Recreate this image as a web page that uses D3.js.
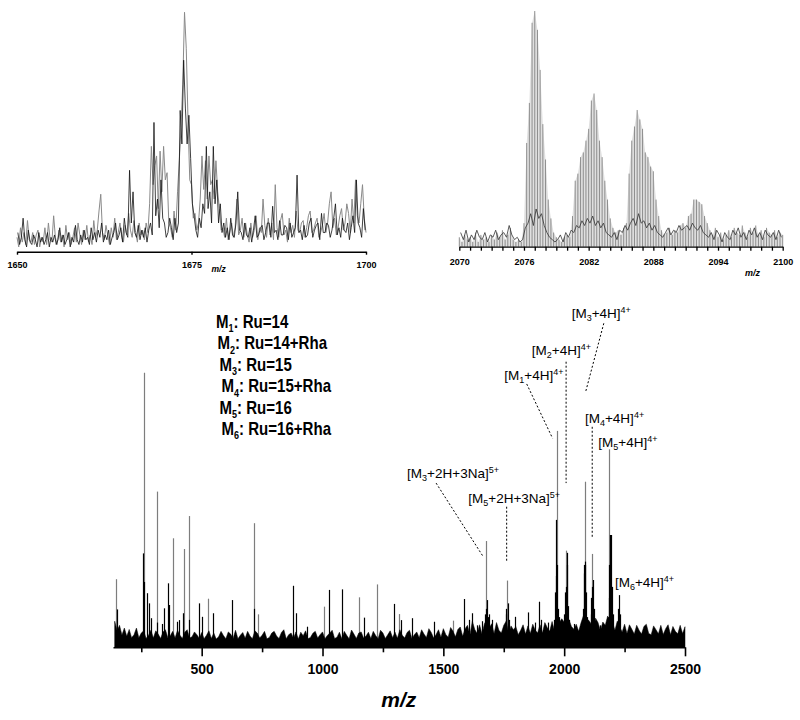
<!DOCTYPE html>
<html>
<head>
<meta charset="utf-8">
<script src="https://cdn.jsdelivr.net/npm/d3@7"></script>
<style>
  body { margin: 0; background: #fff; }
  svg { display: block; font-family: "Liberation Sans", Arial, Helvetica, sans-serif; }
</style>
</head>
<body>
<div id="chart"></div>
<script>
// ---- main spectrum: noise floor, read every 10 m/z from 140 to 2500
var noiseStart = 140, noiseStep = 10;
var noiseFloor = [
  9.5, 6, 8, 4.5, 7, 4,
  6.5, 3.5, 4.6, 7, 3.5, 5.2, 6, 3.2, 4.4, 6.2,
  3.4, 6, 4.8, 3.2, 5.6, 6.4, 3.5, 4.2, 5.8, 3.4,
  6.2, 4.4, 3.2, 5.5, 6.4, 3.4, 3.8, 5.6, 4.6, 3.3,
  5.4, 3.1, 4.4, 6, 3.2, 5.2, 3, 3.8, 5.8, 4.3,
  3.1, 5.6, 4.8, 3.2, 6.2, 3.1, 4.4, 5.4, 3.3, 5.8,
  4.1, 3.1, 6, 5.2, 3.4, 4.4, 5.8, 3.1, 3.6, 5.2,
  5.8, 4.1, 3.2, 5.4, 6.4, 3.1, 4.6, 5.2, 3.3, 5.6,
  3, 5.5, 4.2, 6, 3.1, 3.6, 5.1, 5.8, 3.4, 4.6,
  5.6, 3.1, 4.3, 5.2, 6.2, 3.2, 3.7, 5.5, 3.1, 5.8,
  4.4, 3.1, 6.3, 4.8, 3.2, 5.2, 5.6, 3.4, 4.1, 5.5,
  3.2, 5.8, 4.3, 3.1, 6.2, 5.2, 3.2, 4.6, 6, 3.5,
  5.5, 3.3, 6.4, 4.4, 3.4, 5.4, 6.2, 3.2, 4.6, 5.6,
  3.5, 6.4, 4.8, 3.6, 6.8, 5.4, 3.4, 4.7, 6.4, 3.7,
  6.8, 4.7, 3.7, 7.2, 5.9, 3.8, 6.5, 7.4, 4, 6.8,
  8, 4.5, 9.5, 6.5, 5, 8.2, 4.8, 8.6, 10, 7,
  8.6, 5, 9, 6.2, 5.2, 8, 9.5, 5, 7.8, 6.4,
  7.5, 4.6, 6.2, 8.2, 4.8, 7.8, 5, 8.4, 6.3, 5.2,
  8.2, 5.2, 9, 7.2, 5.8, 9.4, 6, 10, 9, 10.4,
  9.2, 6.2, 10, 7.6, 6.6, 8.4, 5.8, 9, 11.6, 8,
  10, 8.8, 6.4, 10.6, 9, 6, 9.2, 8, 11.4, 7.6,
  9, 6.2, 9.6, 7.4, 5.6, 8.4, 5, 8.2, 6.6, 4.8,
  8, 6.2, 4.8, 7.6, 8.4, 5, 4.6, 7.8, 6.4, 4.9,
  8, 4.7, 6.8, 8.2, 4.6, 7.6, 5.8, 4.9, 8, 5,
  7.5
];

// grey (tall) peaks of the main spectrum
var greyPeakMz  = [144, 261, 314, 381, 427, 446, 527, 715, 733, 1005, 1151, 1224, 1318, 1541, 1677, 1762, 1969, 2006, 2086, 2116, 2187];
var greyPeakInt = [24.8, 100, 56.7, 39.7, 35.8, 47.8, 17.7, 45.2, 12, 14.8, 18.2, 22.9, 12.1, 9.7, 38.7, 24.3, 78.8, 35.2, 60.3, 34, 72.1];

// black peaks of the main spectrum
var blackPeakMz = [151, 256, 262, 274, 283, 290, 316, 334, 344, 361,
  366, 397, 405, 421, 448, 488, 503, 548, 624, 717,
  879, 892, 935, 1026, 1079, 1170, 1297, 1324, 1370, 1463,
  1587, 1608, 1617, 1640, 1660, 1680, 1687, 1700, 1766, 1770,
  1797, 1852, 1880, 1897, 1905, 1935, 1963, 1966, 1971, 1975,
  2003, 2010, 2013, 2017, 2040, 2080, 2083, 2088, 2092, 2113,
  2120, 2124, 2150, 2184, 2190, 2194, 2198, 2224, 2228, 2231,
  1958, 1968, 1978, 2000, 2007, 2020, 2077, 2086, 2096, 2110,
  2116, 2128, 2181, 2187, 2202, 2220, 1672, 1675, 1683, 1758, 1760];
var blackPeakInt = [13.8, 34.2, 23.8, 19.7, 16, 10.6, 9, 8.5, 14.2, 23.3,
  15.4, 9.3, 9.9, 12.4, 10, 16, 11.1, 12.4, 17.2, 14,
  22.4, 12.4, 7.5, 20.9, 21.1, 10.8, 15.8, 9.9, 10.6, 9.3,
  17.6, 10, 12.4, 8, 9.5, 17.2, 12, 10, 16, 10,
  11.1, 12.7, 9, 16.6, 10, 9, 20, 46.4, 30, 14,
  20, 30, 34.4, 15, 8.5, 26.9, 30, 31.2, 20, 18,
  24.5, 14, 8, 18, 40.9, 40.9, 22, 14, 19, 12,
  10, 26, 11, 12, 22, 10, 14, 30, 11, 12,
  22, 9, 11, 30, 12, 9, 12, 14, 11, 12, 14];

var mainTicks = [250, 500, 750, 1000, 1250, 1500, 1750, 2000, 2250, 2500];
var mainLabelled = [500, 1000, 1500, 2000, 2500];

// ---- inset 1 (1650-1700), grey trace every 0.25 from 1650, black trace every 0.25 from 1650.125
var inset1Start = 1650, inset1Step = 0.25;
var inset1Grey = [
  6, 2, 10, 4, 8, 3, 13, 5,
  4, 8, 3, 7, 9, 2, 6, 4,
  10, 3, 12, 5, 4, 15, 6, 3,
  9, 4, 7, 2, 11, 5, 8, 3,
  6, 10, 4, 12, 7, 3, 9, 5,
  11, 4, 7, 3, 13, 6, 9, 17,
  24, 8, 5, 11, 7, 3, 10, 6,
  14, 5, 8, 12, 6, 4, 11, 7,
  16, 9, 6, 13, 8, 4, 12, 7,
  9, 5, 12, 8, 20, 44, 28, 36,
  40, 18, 42, 25, 44, 30, 33, 12,
  10, 6, 17, 9, 25, 38, 52, 70,
  100, 85, 55, 30, 28, 14, 16, 9,
  12, 22, 40, 26, 38, 22, 40, 28,
  30, 22, 38, 25, 18, 9, 10, 6,
  14, 5, 8, 12, 6, 10, 22, 7,
  9, 14, 6, 12, 7, 4, 12, 6,
  9, 15, 5, 10, 8, 22, 11, 6,
  14, 7, 12, 5, 28, 10, 6, 13,
  16, 7, 9, 4, 14, 8, 11, 6,
  17, 9, 8, 12, 13, 6, 10, 15,
  17, 8, 9, 12, 14, 6, 8, 11,
  16, 8, 12, 20, 25, 10, 14, 7,
  10, 15, 18, 9, 12, 20, 16, 8,
  22, 12, 30, 15, 12, 20, 28, 14,
  8];
var inset1Black = [
  8, 3, 6, 14, 5, 2, 9, 4,
  3, 7, 5, 2, 8, 4, 6, 3,
  5, 8, 2, 6, 4, 7, 3, 5,
  10, 4, 7, 3, 5, 8, 2, 6,
  4, 11, 5, 3, 7, 4, 9, 5,
  6, 3, 10, 5, 8, 4, 9, 6,
  12, 4, 7, 5, 9, 3, 6, 8,
  12, 5, 7, 10, 4, 14, 8, 6,
  34, 12, 25, 8, 6, 11, 5, 9,
  6, 10, 4, 9, 12, 7, 54, 15,
  22, 10, 30, 14, 12, 6, 8, 14,
  10, 5, 14, 8, 12, 59, 45, 80,
  60, 45, 57, 39, 20, 15, 9, 6,
  14, 10, 20, 16, 44, 18, 25, 12,
  44, 20, 30, 12, 20, 8, 12, 6,
  10, 5, 14, 7, 6, 12, 25, 9,
  8, 5, 12, 7, 6, 10, 4, 9,
  15, 6, 7, 10, 11, 5, 8, 12,
  12, 6, 19, 8, 9, 5, 13, 7,
  7, 11, 10, 5, 12, 6, 8, 10,
  32, 8, 9, 5, 11, 6, 7, 12,
  14, 6, 9, 11, 12, 5, 16, 8,
  8, 12, 11, 6, 9, 14, 20, 7,
  10, 6, 14, 9, 8, 12, 5, 10,
  15, 8, 30, 12, 10, 6, 18, 9];
var inset1Ticks = [1650, 1675, 1700];

// ---- inset 2 (2070-2100), grey sticks every 0.25 from 2070, black trace every 0.25 from 2070.125
var inset2Start = 2070, inset2Step = 0.25;
var inset2Grey = [
  4, 2, 5, 3,   4, 2, 6, 2,   5, 3, 4, 2,   5, 3, 6, 4,   7, 3, 5, 8,
  3, 2, 3, 2,   10, 44, 61, 95,   100, 92, 75, 52,   37, 20, 12, 6,   4, 3, 2, 4,
  5, 4, 13, 28,   31, 38, 40, 45,   50, 62, 65, 58,   45, 38, 28, 20,   12, 8, 6, 7,
  5, 8, 10, 31,   45, 51, 58, 54,   50, 40, 38, 34,   32, 20, 13, 7,   5, 6, 8, 5,
  7, 6, 9, 10,   8, 13, 14, 20,   20, 19, 18, 13,   10, 7, 5, 8,   4, 6, 3, 5,
  7, 4, 8, 6,   5, 9, 6, 4,   8, 6, 9, 5,   7, 4, 8, 6,   5, 7, 4, 6,
  5];
var inset2Black = [
  6, 3, 7, 2,   5, 3, 7, 4,   3, 6, 2, 5,   4, 7, 3, 5,   6, 4, 9, 5,
  3, 4, 2, 3,   8, 10, 14, 9,   16, 12, 14, 9,   6, 4, 3, 2,   3, 5, 2, 6,
  4, 7, 6, 9,   8, 11, 9, 12,   10, 13, 9, 11,   8, 10, 6, 5,   4, 6, 3, 7,
  6, 9, 7, 10,   12, 9, 14, 10,   11, 8, 10, 7,   9, 6, 5, 4,   6, 8, 5, 7,
  6, 9, 7, 8,   9, 7, 10, 8,   7, 9, 6, 5,   4, 6, 3, 7,   5, 2, 6, 4,
  3, 7, 5, 8,   4, 6, 3, 7,   5, 8, 4, 6,   3, 7, 5, 4,   6, 3, 7, 4];
var inset2Ticks = d3.range(2070, 2101, 1);
var inset2Labelled = [2070, 2076, 2082, 2088, 2094, 2100];

// ---- legend and peak assignments
var legendIds = ['1', '2', '3', '4', '5', '6'];
var legendText = ['Ru=14', 'Ru=14+Rha', 'Ru=15', 'Ru=15+Rha', 'Ru=16', 'Ru=16+Rha'];

// label anchor and leader line given in (m/z, intensity)
var ionLabels = [
  { m: '3', add: '+4H', z: '4+', at: [2031, 119.9], lead: [[2164, 118], [2089, 93.1]] },
  { m: '2', add: '+4H', z: '4+', at: [1866, 106.4], lead: [[2008, 104], [2008, 59.8]] },
  { m: '1', add: '+4H', z: '4+', at: [1752, 97.3], lead: [[1845, 95.9], [1952, 76.1]] },
  { m: '4', add: '+4H', z: '4+', at: [2086, 81.6], lead: [[2116, 80.3], [2116, 39.7]] },
  { m: '5', add: '+4H', z: '4+', at: [2141, 73], lead: null },
  { m: '3', add: '+2H+3Na', z: '5+', at: [1350, 61.5], lead: [[1470, 59.8], [1665, 33]] },
  { m: '5', add: '+2H+3Na', z: '5+', at: [1603, 52.4], lead: [[1762, 51.2], [1762, 31.2]] },
  { m: '6', add: '+4H', z: '4+', at: [2210, 22.1], lead: null }
];

var width = 800, height = 720;
var grey = '#7d7d7d';

var svg = d3.select('#chart')
  .append('svg')
  .attr('width', width)
  .attr('height', height);

function px(v) { return Math.round(v) + 0.5; }

// writes text parts [string, 'n'|'sub'|'sup'] as tspans
function richText(sel, parts, small, subDy, supDy) {
  var shift = 0;
  parts.forEach(function(p) {
    var want = p[1] === 'sub' ? subDy : (p[1] === 'sup' ? -supDy : 0);
    var t = sel.append('tspan').text(p[0]).attr('dy', want - shift);
    if (p[1] !== 'n') t.attr('font-size', small);
    shift = want;
  });
}

function styleAxis(g, fs, sw) {
  g.select('.domain').attr('stroke', '#000').attr('stroke-width', sw);
  g.selectAll('.tick line').attr('stroke', '#000').attr('stroke-width', sw);
  g.selectAll('.tick text')
    .attr('font-size', fs)
    .attr('font-weight', 'bold')
    .attr('font-family', '"Liberation Sans", Arial, sans-serif')
    .attr('fill', '#000');
}

// ================= main spectrum =================
var x = d3.scaleLinear().domain([133, 2500]).range([113, 685]);
var y = d3.scaleLinear().domain([0, 100]).range([647.3, 372.7]);

var main = svg.append('g').attr('class', 'main');

main.append('g').selectAll('line')
  .data(d3.zip(greyPeakMz, greyPeakInt))
  .enter().append('line')
  .attr('x1', function(d) { return px(x(d[0])); })
  .attr('x2', function(d) { return px(x(d[0])); })
  .attr('y1', y(0))
  .attr('y2', function(d) { return y(d[1]); })
  .attr('stroke', grey)
  .attr('stroke-width', 1.2);

main.append('g').selectAll('line')
  .data(d3.zip(blackPeakMz, blackPeakInt))
  .enter().append('line')
  .attr('x1', function(d) { return px(x(d[0])); })
  .attr('x2', function(d) { return px(x(d[0])); })
  .attr('y1', y(0))
  .attr('y2', function(d) { return y(d[1]); })
  .attr('stroke', '#000')
  .attr('stroke-width', 1.2);

var noiseArea = d3.area()
  .x(function(d, i) { return x(noiseStart + i * noiseStep); })
  .y0(y(0))
  .y1(function(d) { return y(d); });

main.append('path')
  .datum(noiseFloor)
  .attr('d', noiseArea)
  .attr('fill', '#000')
  .attr('stroke', '#000')
  .attr('stroke-width', 0.5);

var xAxis = d3.axisBottom(x)
  .tickValues(mainTicks)
  .tickSize(9)
  .tickSizeOuter(0)
  .tickPadding(8)
  .tickFormat(function(d) { return mainLabelled.indexOf(d) >= 0 ? d : ''; });

var xg = main.append('g')
  .attr('transform', 'translate(0,' + y(0) + ')')
  .call(xAxis);
styleAxis(xg, 14, 1.6);
xg.selectAll('.tick line')
  .attr('y2', function(d) { return mainLabelled.indexOf(d) >= 0 ? 9 : 5; });

main.append('text')
  .attr('x', x(1316))
  .attr('y', 707)
  .attr('text-anchor', 'middle')
  .attr('font-size', 21)
  .attr('font-weight', 'bold')
  .attr('font-style', 'italic')
  .text('m/z');

// peak annotations
var ann = main.append('g').attr('class', 'annotations');
ionLabels.forEach(function(d) {
  var t = ann.append('text')
    .attr('x', x(d.at[0]))
    .attr('y', y(d.at[1]))
    .attr('font-size', 13.5);
  richText(t, [['[M', 'n'], [d.m, 'sub'], [d.add + ']', 'n'], [d.z, 'sup']], 9, 3, 5);
  if (d.lead) {
    ann.append('line')
      .attr('x1', x(d.lead[0][0])).attr('y1', y(d.lead[0][1]))
      .attr('x2', x(d.lead[1][0])).attr('y2', y(d.lead[1][1]))
      .attr('stroke', '#000')
      .attr('stroke-width', 1)
      .attr('stroke-dasharray', '2,2');
  }
});

// legend
var legend = svg.append('g')
  .attr('transform', 'translate(216,0) scale(0.86,1)');
var indent = [0, 1.5, 3.5, 5.5, 3.5, 5.5];
legendIds.forEach(function(id, i) {
  var t = legend.append('text')
    .attr('x', indent[i] / 0.86)
    .attr('y', 328 + i * 21.4)
    .attr('font-size', 17.5)
    .attr('font-weight', 'bold');
  richText(t, [['M', 'n'], [id, 'sub'], [': ' + legendText[i], 'n']], 10.5, 4.5, 0);
});

// ================= inset 1 =================
var x1 = d3.scaleLinear().domain([1650, 1700]).range([17, 366]);
var y1 = d3.scaleLinear().domain([0, 100]).range([251.7, 12.3]);
var in1 = svg.append('g').attr('class', 'inset1');

in1.append('path')
  .datum(inset1Grey)
  .attr('d', d3.line()
    .x(function(d, i) { return x1(inset1Start + i * inset1Step); })
    .y(function(d) { return y1(d); }))
  .attr('fill', 'none')
  .attr('stroke', '#8a8a8a')
  .attr('stroke-width', 1);

in1.append('path')
  .datum(inset1Black)
  .attr('d', d3.line()
    .x(function(d, i) { return x1(inset1Start + inset1Step / 2 + i * inset1Step); })
    .y(function(d) { return y1(d); }))
  .attr('fill', 'none')
  .attr('stroke', '#111')
  .attr('stroke-width', 0.8);

var x1g = in1.append('g')
  .attr('transform', 'translate(0,' + y1(0) + ')')
  .call(d3.axisBottom(x1).tickValues(inset1Ticks).tickSize(3).tickSizeOuter(0).tickPadding(7).tickFormat(d3.format('d')));
styleAxis(x1g, 9, 1.4);

in1.append('text')
  .attr('x', x1(1675) + 20)
  .attr('y', 271.5)
  .attr('font-size', 8.5)
  .attr('font-weight', 'bold')
  .attr('font-style', 'italic')
  .text('m/z');

// ================= inset 2 =================
var x2 = d3.scaleLinear().domain([2070, 2100]).range([459.3, 782.7]);
var y2 = d3.scaleLinear().domain([0, 100]).range([246.7, 11]);
var in2 = svg.append('g').attr('class', 'inset2');

in2.append('path')
  .datum(inset2Grey)
  .attr('d', d3.area()
    .x(function(d, i) { return x2(inset2Start + i * inset2Step); })
    .y0(y2(0))
    .y1(function(d) { return y2(d); }))
  .attr('fill', '#e0e0e0');

in2.append('g').selectAll('line')
  .data(inset2Grey)
  .enter().append('line')
  .attr('x1', function(d, i) { return x2(inset2Start + i * inset2Step); })
  .attr('x2', function(d, i) { return x2(inset2Start + i * inset2Step); })
  .attr('y1', y2(0))
  .attr('y2', function(d) { return y2(d); })
  .attr('stroke', '#777')
  .attr('stroke-width', 0.8);

in2.append('path')
  .datum(inset2Black)
  .attr('d', d3.line()
    .x(function(d, i) { return x2(inset2Start + inset2Step / 2 + i * inset2Step); })
    .y(function(d) { return y2(d); }))
  .attr('fill', 'none')
  .attr('stroke', '#333')
  .attr('stroke-width', 0.8);

var x2g = in2.append('g')
  .attr('transform', 'translate(0,' + y2(0) + ')')
  .call(d3.axisBottom(x2).tickValues(inset2Ticks).tickSize(4).tickSizeOuter(0).tickPadding(8)
    .tickFormat(function(d) { return inset2Labelled.indexOf(d) >= 0 ? d : ''; }));
styleAxis(x2g, 9, 1.3);

in2.append('text')
  .attr('x', x2(2096.5))
  .attr('y', 276)
  .attr('font-size', 9)
  .attr('font-weight', 'bold')
  .attr('font-style', 'italic')
  .text('m/z');
</script>
</body>
</html>
